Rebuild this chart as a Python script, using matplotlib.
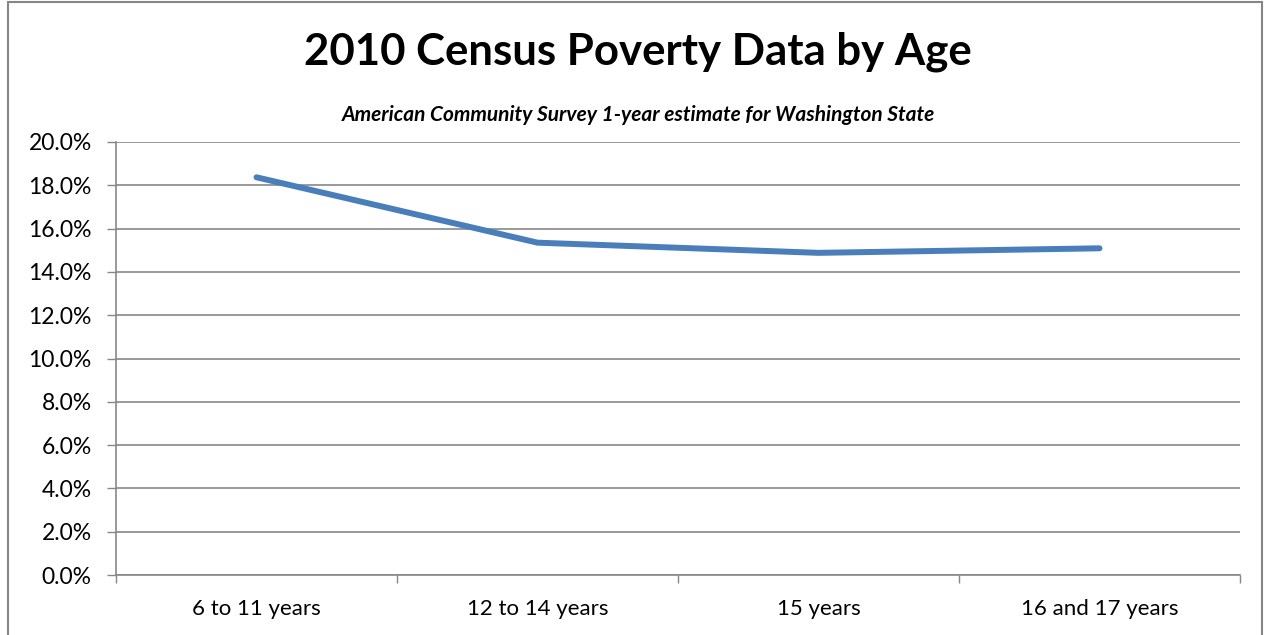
## Line chart of 2010 census poverty rates by age group

import matplotlib.pyplot as plt
from matplotlib.patches import Rectangle
from matplotlib.ticker import FuncFormatter

## Data
age_groups = ['6 to 11 years', '12 to 14 years', '15 years', '16 and 17 years']
poverty_rate = [18.37, 15.35, 14.88, 15.09]   # percent
y_ticks = [0, 2, 4, 6, 8, 10, 12, 14, 16, 18, 20]

plt.rcParams['font.family'] = ['Lato', 'DejaVu Sans']

fig = plt.figure(figsize=(12.68, 6.35), dpi=100)
ax = fig.add_axes([116/1268, 1 - 575/635, (1240 - 116)/1268, (575 - 142)/635])

grid_col = '#878787'

x = list(range(len(age_groups)))
ax.plot(x, poverty_rate, color='#4A7EBB', linewidth=4.3, solid_capstyle='round',
        solid_joinstyle='round', zorder=3)

# Axes limits and ticks
ax.set_xlim(-0.5, len(age_groups) - 0.5)
ax.set_ylim(0, 20)
ax.set_yticks(y_ticks)
ax.yaxis.set_major_formatter(FuncFormatter(lambda v, p: f'{v:.1f}%'))
ax.set_xticks([i - 0.5 for i in range(len(age_groups) + 1)])
ax.set_xticklabels([])
ax.set_xticks(x, minor=True)
ax.set_xticklabels(age_groups, minor=True)

ax.tick_params(axis='x', which='major', length=6, width=1, color=grid_col, direction='out')
ax.tick_params(axis='x', which='minor', length=0, labelsize=16, pad=17)
ax.tick_params(axis='y', length=6.5, width=1, color=grid_col, labelsize=16.5, pad=11)

ax.grid(axis='y', color=grid_col, linewidth=1.2, zorder=0)
for side in ['top', 'right']:
    ax.spines[side].set_visible(False)
ax.spines['left'].set_color(grid_col)
ax.spines['bottom'].set_color(grid_col)
ax.spines['left'].set_linewidth(1.2)
ax.spines['bottom'].set_linewidth(1.2)

# Titles
fig.text(638/1268, 1 - 52/635, '2010 Census Poverty Data by Age', ha='center', va='center',
         fontsize=31.5, fontweight='bold')
fig.text(638/1268, 1 - 115/635, 'American Community Survey 1-year estimate for Washington State',
         ha='center', va='center', fontsize=15, fontweight='bold', style='italic')

# Outer chart border
fig.patches.append(Rectangle((0.006, -0.01), 0.989, 1.007, transform=fig.transFigure,
                             fill=False, edgecolor='#868686', linewidth=1.5))

fig.savefig('out.png', dpi=100)
